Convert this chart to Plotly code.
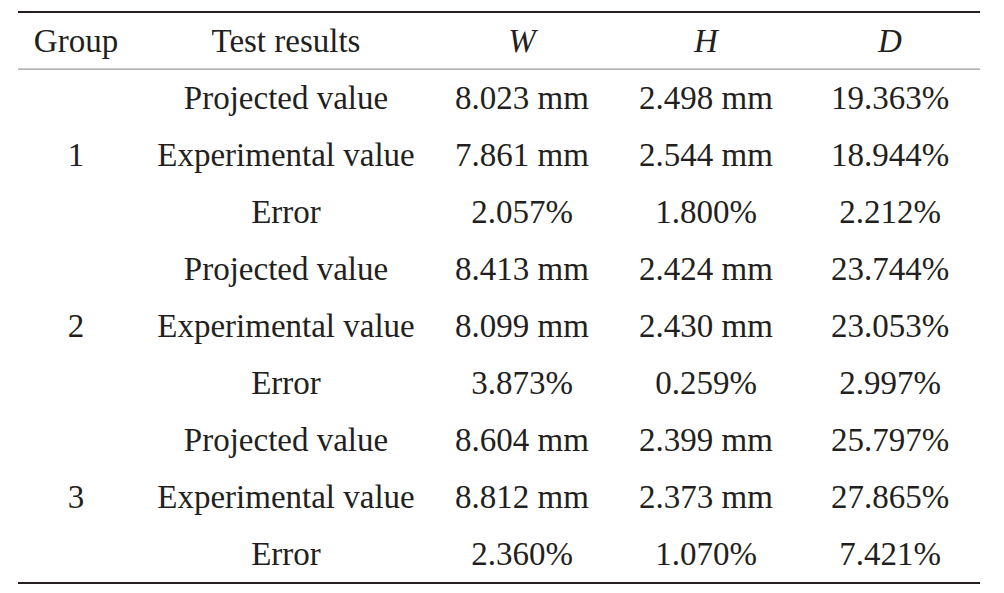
import plotly.graph_objects as go

# table content
headers = ["Group", "Test results", "<i>W</i>", "<i>H</i>", "<i>D</i>"]
groups = ["1", "2", "3"]
test_results = ["Projected value", "Experimental value", "Error"]
w_values = ["8.023 mm", "7.861 mm", "2.057%",
            "8.413 mm", "8.099 mm", "3.873%",
            "8.604 mm", "8.812 mm", "2.360%"]
h_values = ["2.498 mm", "2.544 mm", "1.800%",
            "2.424 mm", "2.430 mm", "0.259%",
            "2.399 mm", "2.373 mm", "1.070%"]
d_values = ["19.363%", "18.944%", "2.212%",
            "23.744%", "23.053%", "2.997%",
            "25.797%", "27.865%", "7.421%"]

# layout constants (pixels across, row index down)
col_x = [76, 286, 522, 706, 890]
left, right = 18, 980
page_off = 8  # body margin of the html page
font = dict(family="Liberation Serif, Times New Roman, serif", size=33, color="#231f20")

n_rows = len(groups) * len(test_results)
rows = list(range(1, n_rows + 1))

fig = go.Figure()


def add_col(x, ys, texts):
    fig.add_trace(go.Scatter(
        x=[x] * len(ys), y=ys, text=texts, mode="text",
        textposition="middle center", textfont=font,
        hoverinfo="skip", showlegend=False,
    ))


# header row
fig.add_trace(go.Scatter(
    x=col_x, y=[0] * len(headers), text=headers, mode="text",
    textposition="middle center", textfont=font,
    hoverinfo="skip", showlegend=False,
))

# group labels sit on the middle row of each block
group_rows = [2 + 3 * i for i in range(len(groups))]
add_col(col_x[0], group_rows, groups)
add_col(col_x[1], rows, test_results * len(groups))
add_col(col_x[2], rows, w_values)
add_col(col_x[3], rows, h_values)
add_col(col_x[4], rows, d_values)

# rules (in row units)
rule_top, rule_mid, rule_bot = -0.56, 0.44, 9.455
fig.add_shape(type="line", x0=left, x1=right, y0=rule_top, y1=rule_top,
              line=dict(color="#231f20", width=2))
fig.add_shape(type="line", x0=left, x1=right, y0=rule_mid, y1=rule_mid,
              line=dict(color="#9a9a9a", width=1.3))
fig.add_shape(type="line", x0=left, x1=right, y0=rule_bot, y1=rule_bot,
              line=dict(color="#231f20", width=2))

row0, step = 44 - page_off, 57
fig.update_layout(
    width=1004, height=593,
    margin=dict(l=0, r=0, t=0, b=0),
    paper_bgcolor="white", plot_bgcolor="white",
    xaxis=dict(range=[page_off, 1004 + page_off], visible=False, fixedrange=True),
    yaxis=dict(range=[(593 - row0) / step, -row0 / step], visible=False, fixedrange=True),
)

fig.write_html("out.html")
